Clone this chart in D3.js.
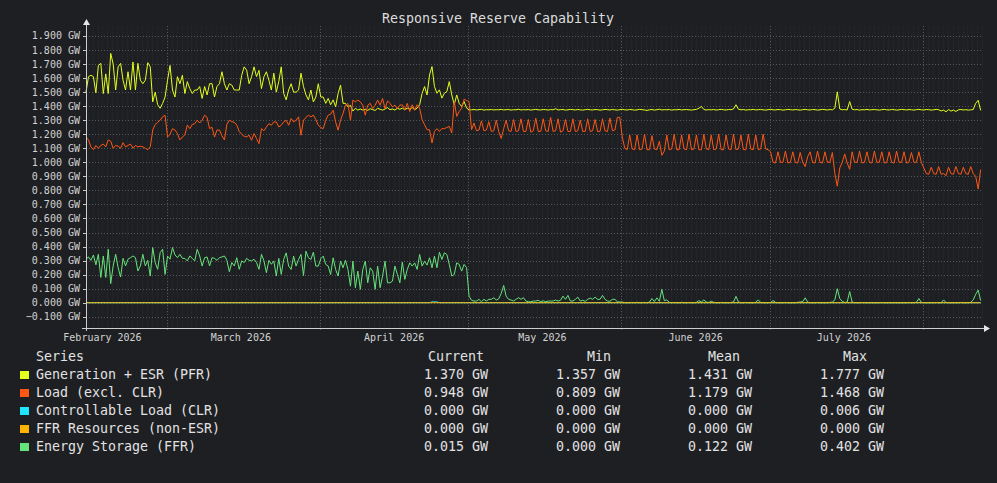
<!DOCTYPE html>
<html>
<head>
<meta charset="utf-8">
<script src="https://cdn.jsdelivr.net/npm/d3@7"></script>
<style>
  html, body { margin: 0; padding: 0; background: #1e1f22; }
  svg { display: block; }
  text { font-family: "DejaVu Sans Mono", monospace; }
</style>
</head>
<body>
<div id="chart"></div>
<script>
// samples in MW, one every 12 hours from startTime
var startTime = Date.UTC(2026, 1, 12, 16), stepHours = 12;

var genValues = [
  1500, 1610, 1620, 1610, 1495, 1690, 1705, 1490, 1630, 1490,
  1776, 1700, 1515, 1680, 1705, 1585, 1515, 1645, 1515, 1715,
  1515, 1705, 1585, 1560, 1585, 1710, 1680, 1430, 1500, 1410,
  1385, 1420, 1465, 1585, 1690, 1515, 1465, 1610, 1560, 1620,
  1490, 1575, 1525, 1490, 1515, 1515, 1540, 1455, 1540, 1480,
  1560, 1560, 1465, 1540, 1560, 1645, 1560, 1515, 1560, 1550,
  1515, 1515, 1515, 1620, 1680, 1657, 1560, 1610, 1680, 1610,
  1655, 1525, 1610, 1645, 1585, 1515, 1635, 1500, 1575, 1680,
  1490, 1445, 1515, 1560, 1500, 1500, 1515, 1635, 1540, 1480,
  1445, 1515, 1430, 1465, 1560, 1465, 1465, 1420, 1455, 1410,
  1445, 1395, 1490, 1550, 1420, 1420, 1395, 1405, 1365, 1385,
  1372, 1380, 1372, 1378, 1370, 1382, 1375, 1370, 1385, 1378,
  1372, 1380, 1390, 1375, 1380, 1372, 1385, 1378, 1386, 1374,
  1386, 1380, 1390, 1374, 1386, 1410, 1492, 1540, 1480, 1622,
  1682, 1540, 1492, 1516, 1457, 1492, 1504, 1575, 1480, 1410,
  1480, 1420, 1398, 1433, 1386, 1374,
  1374, 1376, 1373, 1375, 1377, 1372, 1375, 1374, 1376, 1373, 1375, 1374, 1377, 1373, 1375,
  1376, 1372, 1375, 1374, 1378, 1373, 1375, 1374, 1376, 1372, 1375, 1377, 1374, 1373, 1376,
  1375, 1372, 1376, 1374, 1382, 1373, 1375, 1376, 1372, 1374, 1377, 1375, 1373, 1376, 1374,
  1372, 1375, 1377, 1374, 1373, 1376, 1375, 1372, 1374, 1377, 1375, 1373, 1376, 1374, 1372,
  1375, 1377, 1374, 1373, 1376, 1375, 1372, 1374, 1377, 1375, 1373, 1370, 1374, 1376, 1372,
  1375, 1378, 1373, 1375, 1374, 1376, 1372, 1375, 1374, 1377, 1373, 1375, 1376, 1374, 1372,
  1375, 1377, 1385, 1398, 1376, 1373, 1375, 1374, 1376, 1372, 1375, 1377, 1374, 1373, 1376,
  1375, 1380, 1410, 1378, 1374, 1376, 1372, 1375, 1374, 1377, 1373, 1375, 1376, 1374, 1372,
  1375, 1377, 1374, 1373, 1376, 1375, 1372, 1374, 1377, 1375, 1373, 1376, 1374, 1372, 1375,
  1377, 1374, 1373, 1376, 1375, 1372, 1374, 1377, 1375, 1373, 1376, 1374, 1385, 1502, 1380,
  1374, 1376, 1373, 1433, 1378, 1374, 1376, 1372, 1375, 1374, 1377, 1373, 1375, 1376, 1374,
  1372, 1375, 1377, 1374, 1373, 1376, 1375, 1372, 1374, 1377, 1375, 1373, 1376, 1374, 1372,
  1375, 1377, 1374, 1373, 1376, 1375, 1372, 1374, 1377, 1375, 1366, 1372, 1360, 1376, 1365,
  1372, 1362, 1374, 1376, 1373, 1375, 1372, 1374, 1376, 1420, 1442, 1370
];

var loadValues = [
  1180, 1160, 1110, 1090, 1120, 1100, 1120, 1130, 1110, 1160,
  1150, 1100, 1120, 1115, 1100, 1140, 1110, 1120, 1130, 1100,
  1120, 1110, 1115, 1110, 1100, 1090, 1110, 1230, 1270, 1285,
  1300, 1325, 1335, 1180, 1200, 1240, 1230, 1205, 1160, 1180,
  1195, 1265, 1240, 1270, 1275, 1300, 1280, 1300, 1336, 1320,
  1240, 1250, 1180, 1230, 1230, 1190, 1160, 1270, 1300, 1290,
  1285, 1265, 1220, 1200, 1185, 1181, 1193, 1157, 1205, 1170,
  1133, 1240, 1225, 1252, 1276, 1264, 1288, 1288, 1252, 1264,
  1288, 1300, 1264, 1312, 1288, 1300, 1324, 1193, 1300, 1320,
  1336, 1324, 1336, 1305, 1264, 1247, 1240, 1300, 1336, 1343,
  1371, 1288, 1229, 1300, 1348, 1407, 1420, 1300, 1443, 1431,
  1443, 1431, 1407, 1336, 1407, 1420, 1383, 1407, 1443, 1407,
  1455, 1383, 1438, 1420, 1395, 1407, 1383, 1407, 1410, 1374,
  1420, 1362, 1410, 1374, 1410, 1386, 1303, 1268, 1232, 1232,
  1138, 1220, 1240, 1220, 1240, 1240, 1248, 1256, 1209, 1433,
  1327, 1362, 1386, 1450, 1440, 1433, 1232, 1280, 1225, 1230,
  1295, 1225, 1230, 1290, 1220, 1225, 1300, 1220, 1170, 1240,
  1300, 1225, 1220, 1305, 1220, 1225, 1310, 1220, 1220, 1305,
  1215, 1225, 1315, 1220, 1220, 1310, 1225, 1220, 1320, 1220,
  1225, 1310, 1215, 1225, 1305, 1220, 1220, 1310, 1220, 1225,
  1300, 1220, 1220, 1310, 1220, 1225, 1305, 1220, 1220, 1310,
  1225, 1220, 1315, 1225, 1230, 1320, 1320, 1180, 1100, 1090,
  1195, 1095, 1090, 1195, 1090, 1095, 1200, 1090, 1090, 1190,
  1095, 1090, 1150, 1050, 1080, 1195, 1090, 1095, 1200, 1090,
  1090, 1195, 1095, 1090, 1200, 1090, 1095, 1195, 1090, 1090,
  1200, 1095, 1090, 1195, 1090, 1095, 1200, 1090, 1090, 1195,
  1095, 1090, 1200, 1090, 1095, 1195, 1090, 1090, 1200, 1095,
  1090, 1195, 1090, 1095, 1200, 1095, 1090, 1075, 1000, 995,
  1075, 1000, 1000, 1080, 995, 1000, 1075, 1000, 995, 1070,
  1000, 970, 1040, 1075, 1000, 995, 1080, 1000, 995, 1075,
  1000, 1000, 1070, 920, 830, 960, 1000, 1060, 995, 950,
  1075, 1000, 1000, 1080, 995, 1000, 1075, 1000, 995, 1080,
  1000, 1000, 1075, 995, 1000, 1075, 1000, 995, 1080, 1000,
  1000, 1075, 995, 1000, 1070, 1000, 1000, 1075, 1000,
  960, 920, 915, 965, 920, 915, 970, 915, 920, 905,
  965, 920, 915, 970, 920, 915, 965, 920, 915, 970,
  920, 900, 810, 948
];

var storageValues = [
  310, 326, 302, 340, 270, 345, 180, 333, 180, 381,
  136, 262, 345, 250, 183, 316, 262, 310, 321, 333,
  321, 226, 262, 345, 262, 302, 190, 393, 286, 238,
  357, 381, 202, 333, 310, 393, 340, 321, 345, 316,
  316, 298, 333, 316, 298, 381, 333, 262, 321, 326,
  262, 321, 316, 302, 321, 326, 333, 302, 221, 286,
  262, 321, 238, 298, 286, 316, 302, 298, 310, 286,
  238, 345, 298, 214, 302, 274, 298, 190, 316, 202, 310,
  355, 261, 237, 332, 261, 308, 344, 194, 367, 320, 308, 360, 261, 261, 313,
  332, 273, 261, 201, 320, 237, 190, 296, 249, 303,
  237, 118, 296, 107, 225, 95, 237, 296, 142, 249,
  225, 95, 261, 107, 190, 296, 142, 142, 154, 261,
  201, 142, 289, 166, 237, 284, 261, 284, 237, 344,
  261, 296, 268, 320, 249, 332, 249, 360, 308, 356,
  344, 273, 190, 201, 284, 273, 225, 273, 249, 47,
  17, 12, 12, 24, 7, 24, 12, 24, 24, 36,
  19, 28, 66, 123, 47, 24, 19, 12, 24, 36,
  24, 36, 12, 7, 7, 12, 12, 17, 7, 14,
  7, 12, 12, 12, 19, 12, 17, 47, 24, 52,
  12, 12, 24, 40, 12, 17, 10, 24, 33, 24,
  40, 24, 24, 52, 24, 12, 10, 24, 24, 7,
  5, 5, 0, 0,
  0, 2, 0, 3, 0, 0, 2, 0, 5, 30,
  8, 35, 10, 95, 15, 20, 3, 0, 2, 0,
  0, 3, 0, 0, 2, 0, 0, 3, 15, 5,
  20, 5, 2, 10, 3, 0, 0, 2, 0, 0,
  0, 2, 5, 45, 5, 0, 0, 2, 0, 0,
  0, 3, 20, 2, 0, 0, 0, 2, 15, 3,
  0, 0, 0, 2, 0, 0, 0, 0, 3, 5,
  8, 35, 5, 0, 0, 0, 2, 0, 0, 0,
  0, 2, 5, 20, 100, 30, 10, 2, 5, 80,
  5, 0, 0, 0, 2, 0, 0, 0, 0, 0,
  0, 0, 2, 0, 0, 0, 0, 0, 0, 0,
  0, 0, 0, 2, 0, 0, 3, 30, 3, 0,
  0, 0, 0, 0, 2, 0, 0, 20, 2, 0,
  0, 0, 0, 0, 2, 0, 0, 0, 3, 20,
  60, 90, 15
];

// sparse series: [sample index, MW]
var clrPoints = [[0, 0], [139, 0], [140, 6], [142, 6], [143, 0], [362, 0]];
var ffrPoints = [[0, 0], [362, 0]];

var seriesNames = ["Generation + ESR (PFR)", "Load (excl. CLR)", "Controllable Load (CLR)",
                   "FFR Resources (non-ESR)", "Energy Storage (FFR)"];
var seriesColors = ["#e4ff1c", "#ff5714", "#1ee6ff", "#ffb400", "#66e47c"];
var currentGW = [1.370, 0.948, 0.000, 0.000, 0.015];
var minGW     = [1.357, 0.809, 0.000, 0.000, 0.000];
var meanGW    = [1.431, 1.179, 0.000, 0.000, 0.122];
var maxGW     = [1.777, 1.468, 0.006, 0.000, 0.402];

var yTicks = [-0.1, 0.0, 0.1, 0.2, 0.3, 0.4, 0.5, 0.6, 0.7, 0.8, 0.9,
              1.0, 1.1, 1.2, 1.3, 1.4, 1.5, 1.6, 1.7, 1.8, 1.9];

var W = 997, H = 483,
    plotLeft = 86, plotRight = 986, plotTop = 26, plotBottom = 328;

var svg = d3.select("#chart").append("svg")
  .attr("width", W)
  .attr("height", H);

svg.append("rect").attr("width", W).attr("height", H).attr("fill", "#1e1f22");

var x = d3.scaleUtc()
  .domain([new Date(startTime), new Date(Date.UTC(2026, 7, 13, 18))])
  .range([plotLeft, plotRight]);
var y = d3.scaleLinear().domain([-0.18, 1.971]).range([plotBottom, plotTop]);

function timeAt(i) { return new Date(startTime + i * stepHours * 3600000); }

// minor grid: days
svg.append("g").selectAll("line")
  .data(d3.utcDay.range(x.domain()[0], x.domain()[1]))
  .enter().append("line")
  .attr("x1", function(d) { return Math.round(x(d)) + 0.5; })
  .attr("x2", function(d) { return Math.round(x(d)) + 0.5; })
  .attr("y1", plotTop).attr("y2", plotBottom)
  .attr("stroke", "#28292d")
  .attr("stroke-dasharray", "1,1");

// major grid
svg.append("g").selectAll("line")
  .data(yTicks)
  .enter().append("line")
  .attr("x1", plotLeft).attr("x2", plotRight - 3)
  .attr("y1", function(d) { return Math.round(y(d)) + 0.5; })
  .attr("y2", function(d) { return Math.round(y(d)) + 0.5; })
  .attr("stroke", "#55565b")
  .attr("stroke-dasharray", "1,2");

var months = d3.utcMonth.range(x.domain()[0], x.domain()[1]);
svg.append("g").selectAll("line")
  .data(months)
  .enter().append("line")
  .attr("x1", function(d) { return Math.round(x(d)) + 0.5; })
  .attr("x2", function(d) { return Math.round(x(d)) + 0.5; })
  .attr("y1", plotTop).attr("y2", plotBottom + 3)
  .attr("stroke", "#55565b")
  .attr("stroke-dasharray", "1,2");

// y labels and ticks
svg.append("g").selectAll("text")
  .data(yTicks)
  .enter().append("text")
  .attr("x", 80)
  .attr("y", function(d) { return y(d) + 3.5; })
  .attr("text-anchor", "end")
  .attr("font-size", "10px")
  .attr("fill", "#d2d2d2")
  .text(function(d) { return d3.format(".3f")(d) + " GW"; });

svg.append("g").selectAll("line")
  .data(yTicks)
  .enter().append("line")
  .attr("x1", plotLeft - 3).attr("x2", plotLeft)
  .attr("y1", function(d) { return Math.round(y(d)) + 0.5; })
  .attr("y2", function(d) { return Math.round(y(d)) + 0.5; })
  .attr("stroke", "#c8c8c8");

// month labels, centred half way through the month
var monthFmt = d3.utcFormat("%B %Y");
var labelMonths = d3.utcMonth.range(d3.utcMonth.floor(x.domain()[0]), x.domain()[1])
  .filter(function(d) { return d3.utcDay.offset(d, 15) < x.domain()[1]; });
svg.append("g").selectAll("text")
  .data(labelMonths)
  .enter().append("text")
  .attr("x", function(d) { return x(d3.utcDay.offset(d, 15)); })
  .attr("y", 341)
  .attr("text-anchor", "middle")
  .attr("font-size", "10px")
  .attr("fill", "#d2d2d2")
  .text(function(d) { return monthFmt(d); });

// series lines
var line = d3.line()
  .x(function(d) { return x(timeAt(d[0])); })
  .y(function(d) { return y(d[1] / 1000); });

function indexed(values) { return values.map(function(v, i) { return [i, v]; }); }

var drawOrder = [
  { data: indexed(genValues), color: seriesColors[0] },
  { data: indexed(loadValues), color: seriesColors[1] },
  { data: clrPoints, color: seriesColors[2] },
  { data: indexed(storageValues), color: seriesColors[4] },
  { data: ffrPoints, color: seriesColors[3] }
];

svg.append("g").selectAll("path")
  .data(drawOrder)
  .enter().append("path")
  .attr("d", function(d) { return line(d.data); })
  .attr("fill", "none")
  .attr("stroke", function(d) { return d.color; })
  .attr("stroke-width", 1);

// axes with arrows
svg.append("line")
  .attr("x1", plotLeft - 4).attr("x2", plotRight + 1)
  .attr("y1", plotBottom + 0.5).attr("y2", plotBottom + 0.5)
  .attr("stroke", "#cfcfcf");
svg.append("line")
  .attr("x1", plotLeft + 0.5).attr("x2", plotLeft + 0.5)
  .attr("y1", plotBottom + 3).attr("y2", plotTop - 3)
  .attr("stroke", "#cfcfcf");
svg.append("path")
  .attr("d", "M" + (plotRight + 4) + "," + (plotBottom + 0.5) + "l-6,-3.5v7z")
  .attr("fill", "#e6e6e6");
svg.append("path")
  .attr("d", "M" + (plotLeft + 0.5) + "," + (plotTop - 7) + "l-3.5,6h7z")
  .attr("fill", "#e6e6e6");

// title
svg.append("text")
  .attr("x", 498).attr("y", 23)
  .attr("text-anchor", "middle")
  .attr("font-size", "13.3px")
  .attr("fill", "#dcdcdc")
  .text("Responsive Reserve Capability");

// legend table
var legend = svg.append("g").attr("font-size", "13.3px").attr("fill", "#e2e2e2");
var headers = [["Series", 36], ["Current", 428], ["Min", 587], ["Mean", 708], ["Max", 843]];
legend.selectAll("text.head")
  .data(headers)
  .enter().append("text")
  .attr("class", "head")
  .attr("x", function(d) { return d[1]; })
  .attr("y", 361)
  .text(function(d) { return d[0]; });

var gw = function(v) { return d3.format(".3f")(v) + " GW"; };
var rows = legend.selectAll("g.row")
  .data(seriesNames)
  .enter().append("g")
  .attr("class", "row")
  .attr("transform", function(d, i) { return "translate(0," + (379 + i * 18) + ")"; });

rows.append("rect")
  .attr("x", 20).attr("y", -8)
  .attr("width", 9).attr("height", 8)
  .attr("fill", function(d, i) { return seriesColors[i]; });
rows.append("text").attr("x", 36).text(function(d) { return d; });

var cols = [[currentGW, 488], [minGW, 620], [meanGW, 752], [maxGW, 884]];
cols.forEach(function(c) {
  rows.append("text")
    .attr("x", c[1])
    .attr("text-anchor", "end")
    .text(function(d, i) { return gw(c[0][i]); });
});
</script>
</body>
</html>
